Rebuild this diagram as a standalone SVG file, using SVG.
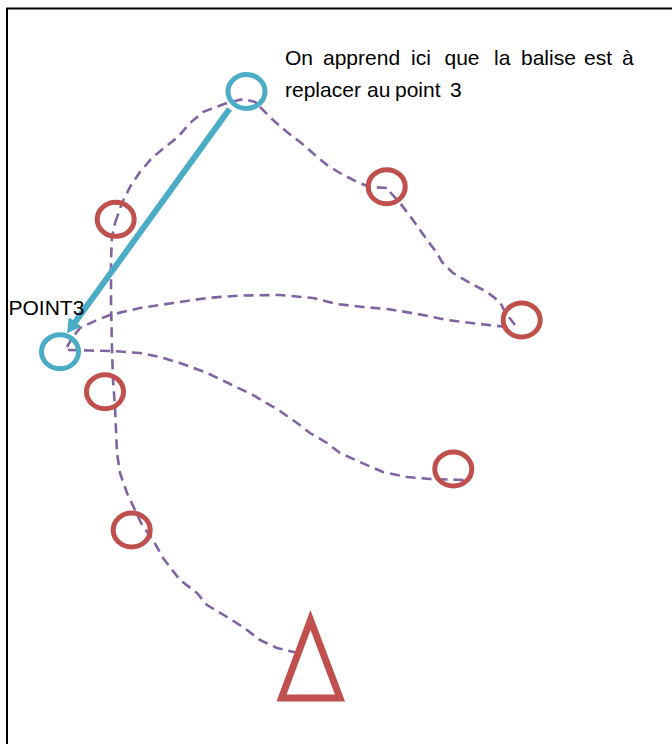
<svg xmlns="http://www.w3.org/2000/svg" width="672" height="744" viewBox="0 0 672 744">
<style>
.txt{font-family:"Liberation Sans",Arial,sans-serif;font-size:21px;fill:#000}
.red{fill:none;stroke:#C0504D;stroke-width:5}
.cyan{fill:none;stroke:#4BACC6;stroke-width:5}
.leg{fill:none;stroke:#8064A2;stroke-width:2.6;stroke-dasharray:10 6;stroke-linejoin:round}
</style>
<defs>
<marker id="ah" markerUnits="userSpaceOnUse" viewBox="0 0 14 16" markerWidth="14" markerHeight="16" refX="1" refY="8" orient="auto">
<path d="M0,0 L14,8 L0,16 z" fill="#4BACC6"/>
</marker>
</defs>
<rect x="0" y="0" width="672" height="744" fill="#fff"/>
<rect x="7" y="8.5" width="700" height="800" fill="none" stroke="#000" stroke-width="2"/>

<g id="connectors">
<path id="leg1" class="leg" d="M298,653 L277,648 L260,640 L243,627 L227,617 L207,605 L197,593 L180,580 L163,558 L153,540 L142,525 L135,510"/>
<path id="leg2" class="leg" d="M135,510 L127,493 L120,473 L117,453 L116,430 L115,407 L113,380 L112,350 L111,300 L111,260 L112,237 L115,223"/>
<path id="leg3" class="leg" d="M115,223 L122,203 L130,187 L140,172 L152,158 L165,147 L178,137 L190,123 L203,112 L227,103 L243,99 L255,102 L260,107"/>
<path id="leg4" class="leg" d="M260,107 L273,120 L287,132 L300,142 L315,155 L327,165 L340,173 L357,182 L370,187 L387,188 L390,192"/>
<path id="leg5" class="leg" d="M390,192 L400,203 L413,220 L427,240 L437,253 L442,262 L453,273 L470,283 L487,292 L500,302 L505,312 L515,325"/>
<path id="leg6" class="leg" d="M507,327 L480,324 L447,320 L423,315 L400,311 L387,309 L363,307 L337,304 L313,298 L280,295 L240,295.5 L207,298 L173,303 L140,308 L110,315 L97,320 L80,328 L72,338 L67,347"/>
<path id="leg7" class="leg" d="M68,350 L90,350.5 L112,351 L140,353 L160,357 L180,363 L207,373 L228,383 L253,395 L280,411 L297,423 L310,433 L327,443 L340,453 L360,462 L383,472 L407,477 L430,479 L465,480"/>
<path id="arrow" d="M229.5,109 L74.7,322.7" fill="none" stroke="#4BACC6" stroke-width="6" marker-end="url(#ah)"/>
</g>

<g id="start"><polygon points="310.5,620 281.5,698 340,698" fill="none" stroke="#C0504D" stroke-width="7"/></g>
<g id="cp-top"><ellipse class="cyan" cx="246.5" cy="91.5" rx="18.5" ry="17"/></g>
<g id="point3"><ellipse class="cyan" cx="60" cy="351.7" rx="18.5" ry="17"/><text class="txt" x="8.5" y="315" font-size="20">POINT3</text></g>
<g id="r1"><ellipse class="red" cx="115.7" cy="219.3" rx="18.5" ry="17"/></g>
<g id="r2"><ellipse class="red" cx="386.7" cy="186.7" rx="18.5" ry="17"/></g>
<g id="r3"><ellipse class="red" cx="521.7" cy="320" rx="18.5" ry="17"/></g>
<g id="r4"><ellipse class="red" cx="105" cy="391.7" rx="18.5" ry="17"/></g>
<g id="r5"><ellipse class="red" cx="453.3" cy="469" rx="18.5" ry="17"/></g>
<g id="r6"><ellipse class="red" cx="131.7" cy="530" rx="18.5" ry="17"/></g>

<g id="note">
<text class="txt" x="285" y="64.5">On</text>
<text class="txt" x="323" y="64.5">apprend</text>
<text class="txt" x="411" y="64.5">ici</text>
<text class="txt" x="444.5" y="64.5">que</text>
<text class="txt" x="494" y="64.5">la</text>
<text class="txt" x="521" y="64.5">balise</text>
<text class="txt" x="584" y="64.5">est</text>
<text class="txt" x="622" y="64.5">à</text>
<text class="txt" x="285" y="96.5">replacer</text>
<text class="txt" x="367" y="96.5">au</text>
<text class="txt" x="395" y="96.5">point</text>
<text class="txt" x="450" y="96.5">3</text>
</g>
</svg>
